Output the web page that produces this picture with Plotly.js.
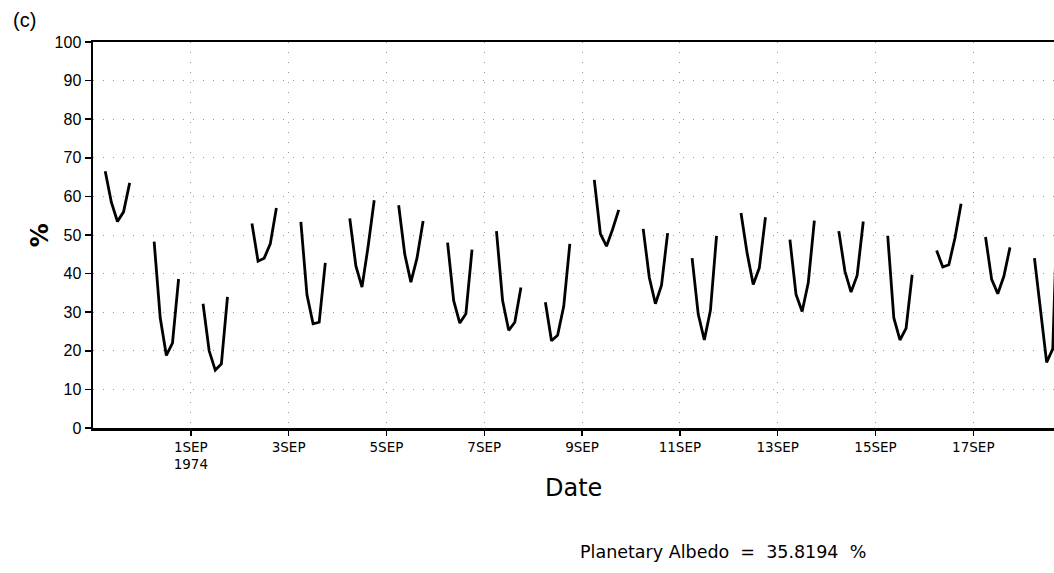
<!DOCTYPE html>
<html>
<head>
<meta charset="utf-8">
<script src="https://cdn.plot.ly/plotly-3.0.1.min.js"></script>
<style>
  html, body { margin: 0; padding: 0; background: #fff; }
  #chart { width: 1054px; height: 573px; }
</style>
</head>
<body>
<div id="chart"></div>
<script>
// Observation days and the local hours sampled each day
const days = [
  '1974-08-30', '1974-08-31', '1974-09-01', '1974-09-02', '1974-09-03',
  '1974-09-04', '1974-09-05', '1974-09-06', '1974-09-07', '1974-09-08',
  '1974-09-09', '1974-09-10', '1974-09-11', '1974-09-12', '1974-09-13',
  '1974-09-14', '1974-09-15', '1974-09-16', '1974-09-17', '1974-09-18'
];
const hours = [6, 9, 12, 15, 18];

// Albedo (%) per day, one value per sampled hour
const albedo = [
  [66.5, 58.5, 53.5, 56.0, 63.5],
  [48.3, 28.5, 18.8, 22.0, 38.6],
  [32.2, 20.0, 15.0, 16.6, 34.0],
  [53.0, 43.2, 44.0, 47.7, 57.0],
  [53.4, 34.5, 27.0, 27.4, 42.8],
  [54.3, 42.0, 36.5, 47.0, 59.0],
  [57.7, 45.0, 37.8, 44.0, 53.6],
  [48.0, 33.0, 27.2, 29.6, 46.2],
  [51.0, 33.0, 25.3, 27.4, 36.4],
  [32.6, 22.6, 24.0, 31.5, 47.7],
  [64.3, 50.3, 47.1, 51.5, 56.5],
  [51.6, 39.0, 32.2, 37.0, 50.5],
  [44.0, 29.5, 22.8, 30.5, 49.8],
  [55.7, 45.3, 37.2, 41.5, 54.6],
  [48.8, 34.6, 30.2, 37.6, 53.7],
  [51.0, 40.6, 35.2, 39.5, 53.5],
  [49.8, 28.5, 22.8, 25.8, 39.7],
  [46.0, 41.7, 42.3, 49.2, 58.1],
  [49.5, 38.5, 34.8, 39.3, 46.8],
  [44.0, 30.0, 17.0, 20.5, 70.0]
];

// Date ticks every second day
const tickDates = ['1974-09-01', '1974-09-03', '1974-09-05', '1974-09-07', '1974-09-09',
                   '1974-09-11', '1974-09-13', '1974-09-15', '1974-09-17'];
const tickText = ['1SEP<br>1974', '3SEP', '5SEP', '7SEP', '9SEP',
                  '11SEP', '13SEP', '15SEP', '17SEP'];

const meanAlbedo = '35.8194';

// One trace; a null between days breaks the line at night
const xs = [], ys = [];
days.forEach((d, i) => {
  hours.forEach((h, j) => {
    xs.push(d + ' ' + String(h).padStart(2, '0') + ':00');
    ys.push(albedo[i][j]);
  });
  xs.push(d + ' 21:00');
  ys.push(null);
});

const trace = {
  x: xs, y: ys,
  type: 'scatter', mode: 'lines',
  line: { color: '#000', width: 2.8 },
  connectgaps: false,
  hoverinfo: 'x+y'
};

const tickFont = { family: 'DejaVu Sans, sans-serif', size: 13.5, color: '#000' };

const layout = {
  width: 1054, height: 573,
  margin: { l: 93, r: 0, t: 42, b: 145 },
  paper_bgcolor: '#fff', plot_bgcolor: '#fff',
  showlegend: false,
  xaxis: {
    type: 'date',
    range: ['1974-08-30 00:00', '1974-09-18 15:36'],
    tickmode: 'array', tickvals: tickDates, ticktext: tickText,
    ticks: 'outside', ticklen: 5, tickwidth: 1.5, tickcolor: '#000',
    tickfont: tickFont,
    showline: true, linecolor: '#000', linewidth: 2.5, mirror: true,
    showgrid: true, gridcolor: '#999', gridwidth: 1, griddash: '1px,9px',
    zeroline: false
  },
  yaxis: {
    range: [0, 100], dtick: 10, tick0: 0,
    ticks: 'outside', ticklen: 6, tickwidth: 1.5, tickcolor: '#000',
    tickfont: { family: 'Liberation Sans, Arial, sans-serif', size: 16, color: '#000' },
    showline: true, linecolor: '#000', linewidth: 2.5,
    showgrid: true, gridcolor: '#999', gridwidth: 1, griddash: '1px,9px',
    zeroline: false
  },
  annotations: [
    { text: '(c)', xref: 'paper', yref: 'paper', x: -0.071, y: 1.057,
      xanchor: 'center', yanchor: 'middle', showarrow: false,
      font: { family: 'Liberation Sans, Arial, sans-serif', size: 20, color: '#000' } },
    { text: '<b>%</b>', xref: 'paper', yref: 'paper', x: -0.055, y: 0.5,
      xanchor: 'center', yanchor: 'middle', showarrow: false, textangle: -90,
      font: { family: 'DejaVu Sans, sans-serif', size: 24, color: '#000' } },
    { text: 'Date', xref: 'paper', yref: 'paper', x: 0.5, y: -0.155,
      xanchor: 'center', yanchor: 'middle', showarrow: false,
      font: { family: 'DejaVu Sans, sans-serif', size: 24, color: '#000' } },
    { text: 'Planetary Albedo  =  ' + meanAlbedo + '  %', xref: 'paper', yref: 'paper',
      x: 0.656, y: -0.321, xanchor: 'center', yanchor: 'middle', showarrow: false,
      font: { family: 'DejaVu Sans, sans-serif', size: 17.5, color: '#000' } }
  ]
};

Plotly.newPlot('chart', [trace], layout, { displayModeBar: false, staticPlot: true });
</script>
</body>
</html>
